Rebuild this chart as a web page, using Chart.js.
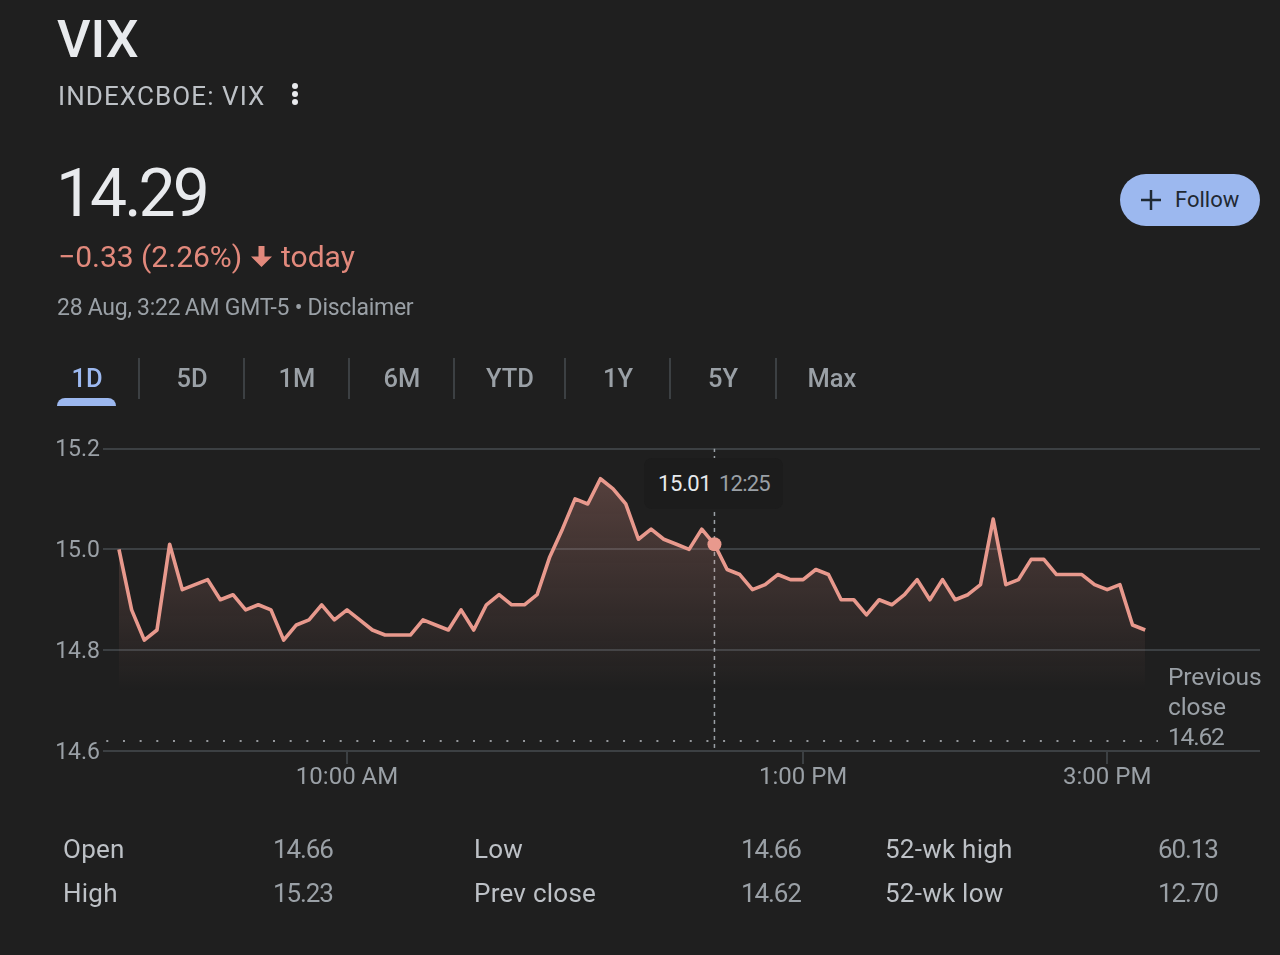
<!DOCTYPE html>
<html>
<head>
<meta charset="utf-8">
<title>VIX</title>
<script src="https://cdn.jsdelivr.net/npm/chart.js@4/dist/chart.umd.min.js"></script>
<style>
html, body { margin: 0; padding: 0; background: #1f1f1f; }
body { width: 1280px; height: 955px; position: relative; overflow: hidden; font-family: Roboto, sans-serif; }
canvas { position: absolute; left: 0; top: 0; }
.t { position: absolute; white-space: nowrap; line-height: 1; transform: translateY(-50%); color: #bdc1c6; font-size: 26px; letter-spacing: 0.25px; }
.v { color: #9aa0a6; letter-spacing: -1.1px; }
.tab { position: absolute; top: 379px; transform: translate(-50%, -50%); font-size: 25.5px; font-weight: 500; color: #9aa0a6; line-height: 1; }
.sep { position: absolute; top: 358px; width: 2px; height: 41px; background: #3c4043; }
.dot { position: absolute; left: 292px; width: 6px; height: 6px; border-radius: 50%; background: #e8eaed; }
</style>
</head>
<body>
<canvas id="chart-1" width="1280" height="955"></canvas>

<div class="t" style="left:57px;top:40px;font-size:52px;font-weight:500;color:#e8eaed;letter-spacing:0">VIX</div>
<div class="t" style="left:58px;top:96px;font-size:26px;color:#bdc1c6;letter-spacing:1.1px">INDEXCBOE: VIX</div>
<div class="dot" style="top:83px"></div><div class="dot" style="top:91px"></div><div class="dot" style="top:99px"></div>
<div class="t" style="left:56px;top:194px;font-size:66px;color:#e8eaed;letter-spacing:-3px">14.29</div>
<div class="t" style="left:58px;top:257px;font-size:30px;color:#e2897c;letter-spacing:0">−0.33 (2.26%)</div>
<svg style="position:absolute;left:250px;top:245px" width="23" height="23" viewBox="0 0 23 23"><path d="M11.5 22 L1 11.5 H8.5 V1 H14.5 V11.5 H22 Z" fill="#e2897c"/></svg>
<div class="t" style="left:281px;top:257px;font-size:30px;color:#e2897c;letter-spacing:0">today</div>
<div class="t" style="left:57px;top:307px;font-size:23px;color:#9aa0a6;letter-spacing:-0.27px">28 Aug, 3:22&#8201;AM GMT-5 • Disclaimer</div>

<div style="position:absolute;left:1120px;top:174px;width:140px;height:52px;border-radius:26px;background:#9cb8ef"></div>
<svg style="position:absolute;left:1141px;top:190px" width="20" height="20" viewBox="0 0 21 21"><path d="M9.2 0h2.6v9.200H21v2.600h-9.200V21H9.200v-9.200H0V9.200h9.200z" fill="#1f2933"/></svg>
<div class="t" style="left:1175px;top:200px;font-size:22px;color:#1f2933;letter-spacing:0">Follow</div>

<div class="tab" style="left:87px;color:#9cb8ef">1D</div>
<div class="tab" style="left:192px">5D</div>
<div class="tab" style="left:297px">1M</div>
<div class="tab" style="left:402px">6M</div>
<div class="tab" style="left:510px">YTD</div>
<div class="tab" style="left:618px">1Y</div>
<div class="tab" style="left:723px">5Y</div>
<div class="tab" style="left:832px">Max</div>
<div class="sep" style="left:138px"></div><div class="sep" style="left:243px"></div><div class="sep" style="left:348px"></div>
<div class="sep" style="left:453px"></div><div class="sep" style="left:564px"></div><div class="sep" style="left:669px"></div><div class="sep" style="left:775px"></div>
<div style="position:absolute;left:57px;top:398px;width:59px;height:8px;border-radius:8px 8px 0 0;background:#9cb8ef"></div>

<div style="position:absolute;left:644px;top:458px;width:139px;height:51px;border-radius:8px;background:#1c1c1c"></div>
<div class="t" style="left:658px;top:484px;font-size:22px;color:#e8eaed;letter-spacing:-0.4px">15.01</div>
<div class="t" style="left:719px;top:484px;font-size:22px;color:#9aa0a6;letter-spacing:-0.8px">12:25</div>

<div class="t" style="left:1168px;top:677px;font-size:24.500px;color:#9aa0a6;letter-spacing:-0.1px">Previous</div>
<div class="t" style="left:1168px;top:707px;font-size:24.500px;color:#9aa0a6;letter-spacing:-0.1px">close</div>
<div class="t" style="left:1168px;top:737px;font-size:24.500px;color:#9aa0a6;letter-spacing:-1.200px">14.62</div>

<div class="t" style="left:63px;top:849px">Open</div>
<div class="t v" style="left:273px;top:849px">14.66</div>
<div class="t" style="left:63px;top:893px">High</div>
<div class="t v" style="left:273px;top:893px">15.23</div>
<div class="t" style="left:474px;top:849px">Low</div>
<div class="t v" style="left:741px;top:849px">14.66</div>
<div class="t" style="left:474px;top:893px">Prev close</div>
<div class="t v" style="left:741px;top:893px">14.62</div>
<div class="t" style="left:885px;top:849px">52-wk high</div>
<div class="t v" style="left:1158px;top:849px">60.13</div>
<div class="t" style="left:885px;top:893px">52-wk low</div>
<div class="t v" style="left:1158px;top:893px">12.70</div>

<script>
const times = [
    '08:30','08:35','08:40','08:45','08:50','08:55','09:00','09:05','09:10','09:15','09:20','09:25',
    '09:30','09:35','09:40','09:45','09:50','09:55','10:00','10:05','10:10','10:15','10:20','10:25',
    '10:30','10:35','10:40','10:45','10:50','10:55','11:00','11:05','11:10','11:15','11:20','11:25',
    '11:30','11:35','11:40','11:45','11:50','11:55','12:00','12:05','12:10','12:15','12:20','12:25',
    '12:30','12:35','12:40','12:45','12:50','12:55','13:00','13:05','13:10','13:15','13:20','13:25',
    '13:30','13:35','13:40','13:45','13:50','13:55','14:00','14:05','14:10','14:15','14:20','14:25',
    '14:30','14:35','14:40','14:45','14:50','14:55','15:00','15:05','15:10','15:15'
];
const values = [
    15.00,14.88,14.82,14.84,15.01,14.92,14.93,14.94,14.90,14.91,14.88,14.89,
    14.88,14.82,14.85,14.86,14.89,14.86,14.88,14.86,14.84,14.83,14.83,14.83,
    14.86,14.85,14.84,14.88,14.84,14.89,14.91,14.89,14.89,14.91,14.985,15.04,
    15.10,15.09,15.14,15.12,15.09,15.02,15.04,15.02,15.01,15.00,15.04,15.01,
    14.96,14.95,14.92,14.93,14.95,14.94,14.94,14.96,14.95,14.90,14.90,14.87,
    14.90,14.89,14.91,14.94,14.90,14.94,14.90,14.91,14.93,15.06,14.93,14.94,
    14.98,14.98,14.95,14.95,14.95,14.93,14.92,14.93,14.85,14.84
];
const yTicks = [14.6, 14.8, 15.0, 15.2];
const xTickTimes = ['10:00', '13:00', '15:00'];
const xTickLabels = ['10:00 AM', '1:00 PM', '3:00 PM'];
const prevClose = 14.62;
const prevCloseFrom = '08:25';
const prevCloseTo = '15:20';
const hoverTime = '12:25';
const hoverBottom = 14.606;

const lineColor = '#e8998d';
const gridColor = '#3c4043';

function toMinutes(t) {
    const parts = t.split(':');
    return parts[0] * 60 + Number(parts[1]);
}

const hoverIndex = times.indexOf(hoverTime);

function areaFill(context) {
    const area = context.chart.chartArea;
    if (!area) return 'transparent';
    const g = context.chart.ctx.createLinearGradient(0, 478, 0, 692);
    g.addColorStop(0, 'rgba(232,153,141,0.27)');
    g.addColorStop(1, 'rgba(232,153,141,0)');
    return g;
}

const ctx = document.querySelector('#chart-1').getContext('2d');

new Chart(ctx, {
    type: 'line',
    data: {
        datasets: [
            {
                data: times.map((t, i) => ({ x: toMinutes(t), y: values[i] })),
                borderColor: lineColor,
                borderWidth: 3.6,
                borderJoinStyle: 'round',
                tension: 0,
                fill: 'origin',
                backgroundColor: areaFill,
                pointBackgroundColor: lineColor,
                pointBorderWidth: 0,
                pointRadius: (c) => c.dataIndex === hoverIndex ? 7 : 0
            },
            {
                data: [
                    { x: toMinutes(prevCloseFrom), y: prevClose },
                    { x: toMinutes(prevCloseTo), y: prevClose }
                ],
                borderColor: '#bdc1c6',
                borderWidth: 1.5,
                borderDash: [2, 14.67],
                pointRadius: 0,
                fill: false
            },
            {
                data: [
                    { x: toMinutes(hoverTime), y: hoverBottom },
                    { x: toMinutes(hoverTime), y: yTicks[3] }
                ],
                borderColor: '#9aa0a6',
                borderWidth: 1.5,
                borderDash: [4, 4],
                pointRadius: 0,
                fill: false
            }
        ]
    },
    options: {
        responsive: false,
        animation: false,
        devicePixelRatio: 1,
        layout: { padding: { top: 448.5, right: 20, bottom: 154, left: 0 } },
        plugins: { legend: { display: false }, tooltip: { enabled: false } },
        events: [],
        scales: {
            x: {
                type: 'linear',
                min: 503.7,
                max: 960.3,
                afterFit: (scale) => { scale.height = 50; },
                afterBuildTicks: (scale) => {
                    scale.ticks = xTickTimes.map((t) => ({ value: toMinutes(t) }));
                },
                border: { display: false },
                grid: { drawOnChartArea: false, color: gridColor, lineWidth: 2, tickLength: 13 },
                ticks: {
                    color: '#9aa0a6',
                    font: { family: 'Roboto', size: 24 },
                    padding: 0,
                    maxRotation: 0,
                    autoSkip: false,
                    callback: (v) => xTickLabels[xTickTimes.findIndex((t) => toMinutes(t) === v)]
                }
            },
            y: {
                min: yTicks[0],
                max: yTicks[3],
                afterFit: (scale) => { scale.width = 103; },
                afterBuildTicks: (scale) => {
                    scale.ticks = yTicks.map((v) => ({ value: v }));
                },
                border: { display: false },
                grid: { color: gridColor, lineWidth: 2, drawTicks: false },
                ticks: {
                    color: '#9aa0a6',
                    font: { family: 'Roboto', size: 23 },
                    padding: 3,
                    labelOffset: 2,
                    callback: (v) => v.toFixed(1)
                }
            }
        }
    }
});
</script>
</body>
</html>
